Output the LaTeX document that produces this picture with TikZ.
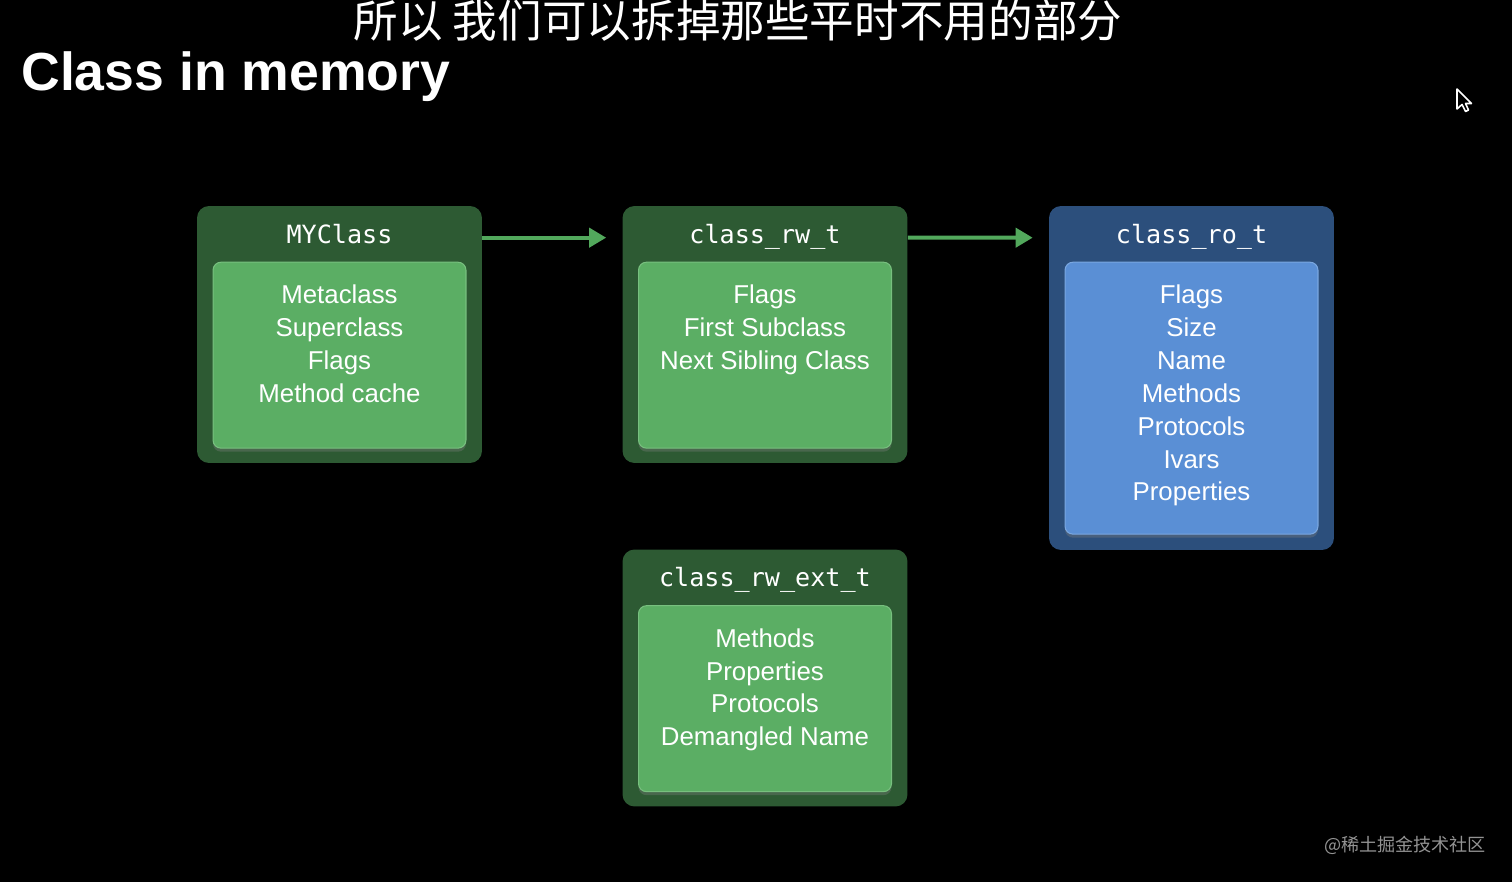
\documentclass[tikz,border=0pt]{standalone}
\usepackage{fontspec}
\setmainfont{Liberation Sans}
\setmonofont{DejaVu Sans Mono}
\newfontfamily\cjkfont{Noto Sans CJK SC}
\usepackage{tikz}
\usetikzlibrary{calc}
\usetikzlibrary{arrows.meta}
\usetikzlibrary{positioning}
\usetikzlibrary{shadows}

\definecolor{grnout}{HTML}{2D5A33}
\definecolor{grnin}{HTML}{5BAE64}
\definecolor{grnedge}{HTML}{78C07F}
\definecolor{bluout}{HTML}{2C4F7C}
\definecolor{bluin}{HTML}{5A8FD5}
\definecolor{bluedge}{HTML}{7AA7E0}
\definecolor{arrgrn}{HTML}{52A85C}

\begin{document}
\begin{tikzpicture}[x=0.02cm, y=-0.02cm,
  outbox/.style={rounded corners=0.24cm, minimum width=5.7cm, minimum height=5.14cm, inner sep=0},
  inbox/.style={rounded corners=0.16cm, minimum width=5.06cm, minimum height=3.72cm, inner sep=0, line width=0.6pt,
    drop shadow={shadow xshift=0pt, shadow yshift=-2pt, opacity=0.35}},
  head/.style={text=white, inner sep=0, font=\ttfamily\fontsize{14.3}{17}\selectfont},
  body/.style={text=white, inner sep=0, align=center, font=\fontsize{14.7}{18.7}\selectfont},
  link/.style={arrgrn, line width=0.08cm, -{Triangle[length=0.34cm, width=0.38cm]}}]

\useasboundingbox[fill=black] (0,0) rectangle (1512,882);

% titles
\node[anchor=base west, inner sep=0, text=white, font=\bfseries\fontsize{30.5}{34}\selectfont] (title) at (21,91) {Class in memory};
\node[inner sep=0, text=white, font=\cjkfont\fontsize{25.4}{28}\selectfont] (sub) at (738,21) {所以 我们可以拆掉那些平时不用的部分};

% MYClass
\node[outbox, fill=grnout] (myclass) at (339.5,334.5) {};
\node[head, below=0.36cm of myclass.north] (myclass-head) {MYClass};
\node[inbox, fill=grnin, draw=grnedge, below=1.12cm of myclass.north] (myclass-in) {};
\node[body, below=0.46cm of myclass-in.north] (myclass-txt) {Metaclass\\Superclass\\Flags\\Method cache};

% class_rw_t
\node[outbox, fill=grnout] (rwt) at (765,334.5) {};
\node[head, below=0.36cm of rwt.north] (rwt-head) {class\_rw\_t};
\node[inbox, fill=grnin, draw=grnedge, below=1.12cm of rwt.north] (rwt-in) {};
\node[body, below=0.46cm of rwt-in.north] (rwt-txt) {Flags\\First Subclass\\Next Sibling Class};

% class_ro_t
\node[outbox, fill=bluout, minimum height=6.88cm] (rot) at (1191.5,378) {};
\node[head, below=0.36cm of rot.north] (rot-head) {class\_ro\_t};
\node[inbox, fill=bluin, draw=bluedge, minimum height=5.44cm, below=1.12cm of rot.north] (rot-in) {};
\node[body, below=0.46cm of rot-in.north] (rot-txt) {Flags\\Size\\Name\\Methods\\Protocols\\Ivars\\Properties};

% class_rw_ext_t
\node[outbox, fill=grnout] (rwext) at (765,678) {};
\node[head, below=0.36cm of rwext.north] (rwext-head) {class\_rw\_ext\_t};
\node[inbox, fill=grnin, draw=grnedge, below=1.12cm of rwext.north] (rwext-in) {};
\node[body, below=0.46cm of rwext-in.north] (rwext-txt) {Methods\\Properties\\Protocols\\Demangled Name};

% arrows
\draw[link] ($(myclass.north east)+(0,32)$) -- ($(rwt.north west)+(-16,32)$);
\draw[link] ($(rwt.north east)+(0,32)$) -- ($(rot.north west)+(-16,32)$);

% pointer
\filldraw[draw=white, fill=black, line width=0.9pt, line join=round] (1457,89) -- (1457,109) -- (1462,104.5) -- (1465.5,111.5) -- (1468.5,110) -- (1465.5,103.5) -- (1471.5,103.5) -- cycle;

% watermark
\node[inner sep=0, text=gray!85, font=\cjkfont\fontsize{10.3}{12}\selectfont] (mark) at (1405,845) {@稀土掘金技术社区};

\end{tikzpicture}
\end{document}
